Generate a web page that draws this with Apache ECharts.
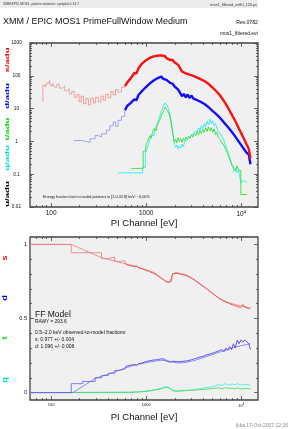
<!DOCTYPE html>
<html><head><meta charset="utf-8">
<script src="https://cdn.jsdelivr.net/npm/echarts@6/dist/echarts.min.js"></script>
<style>html,body{margin:0;padding:0;background:#fff}#c{width:289px;height:429px}</style>
</head><body><div id="c"></div>
<script>
// ---------- tick values ----------
const xMajor = [100, 1000, 10000];
const xMinor = [70, 80, 90, 200, 300, 400, 500, 600, 700, 800, 900, 2000, 3000, 4000, 5000, 6000, 7000, 8000, 9000];
const yTopMajor = [0.01, 0.1, 1, 10, 100, 1000];
const yTopMinor = [0.02,0.03,0.04,0.05,0.06,0.07,0.08,0.09, 0.2,0.3,0.4,0.5,0.6,0.7,0.8,0.9, 2,3,4,5,6,7,8,9, 20,30,40,50,60,70,80,90, 200,300,400,500,600,700,800,900];
const yBotMajor = [0, 0.5, 1];
const yBotMinor = [0.1, 0.2, 0.3, 0.4, 0.6, 0.7, 0.8, 0.9];

// ---------- shared high-energy grid (eV) ----------
const gridE = [600,630,660,690,720,750,790,830,870,910,950,1000,1040,1090,1140,1200,1250,1310,1370,1440,1500,1570,1650,1720,1800,1890,1980,2070,2170,2270,2380,2490,2610,2730,2860,3000,3140,3290,3440,3600,3770,3950,4140,4330,4540,4750,4980,5210,5460,5720,5990,6270,6570,6880,7200,7540,7900,8270,8660,9070,9500,9950,10400,10900,11400,12000,12500];

// ---------- top panel: s (singles) ----------
const sLowE = [82,82,87,91,96,99,104,109,115,122,130,139,147,155,165,175,186,197,207,219,232,247,261,278,294,314,334,354,374,398,425,450,476,506,549,600];
const sLow  = [16,52,45,60,71,50,58,45,55,42,48,35,40,28,33,22,27,16,24,14,20,13,21,15,22,16,24,18,27,21,33,26,38,32,45,48];
const sHigh = [48,62,58,85,80,122,118,170,160,240,220,300,280,350,320,390,350,410,360,420,370,400,340,360,300,310,260,265,215,200,135,140,118,128,108,118,100,108,88,95,78,84,68,72,56,60,44,46,34,35,25,24,17,16,11,10,6.8,6.5,4.2,3.8,2.4,2.4,1.4,1.5,0.8,0.6,0.3];

// ---------- top panel: d (doubles) ----------
const dLowE = [172,210,257,290,313,339,383,415,450,476,506,550,595,600];
const dLow  = [1.06,0.93,1.2,1.5,1.37,1.7,2.2,3.0,3.9,2.9,4.4,5.8,7.9,9];
const dHigh = [9,12,11,15,14,19,18,26,24,35,32,46,43,58,54,72,66,84,76,95,82,90,74,75,60,58,48,46,38,34,24,28,22,27,21,25,20,23,18,20,16,17,13.5,14,11,11.5,8.5,9,6.8,7,5.2,5.3,3.8,4.0,2.8,2.9,2.0,2.0,1.4,1.45,0.95,1.0,0.65,0.7,0.45,0.4,0.2];

// ---------- top panel: t (triples) ----------
const tE = [700,930,930,980,1000,1040,1090,1130,1170,1220,1270,1320,1380,1430,1480,1530,1580,1630,1680,1730,1780,1830,1880,1930,1980,2040,2100,2170,2240,2310,2380,2460,2540,2620,2710,2800,2900,3000,3100,3210,3320,3440,3560,3680,3810,3940,4080,4220,4370,4520,4680,4840,5010,5190,5370,5560,5760,5960,6170,6390,6610,6850,7090,7340,7600,7870,8150,8440,8740,9050,9400,9900,9900,11500];
const tVal = [0.15,0.15,0.5,0.5,0.85,1.05,1.5,1.25,2.0,2.5,2.1,3.4,4.3,5.6,7.2,8.6,11,12,8.6,9.2,5.6,3.6,2.2,1.4,0.95,1.15,0.9,1.3,1.0,1.2,0.95,1.25,1.05,1.35,1.15,1.45,1.25,1.6,1.35,1.75,1.5,1.9,1.6,2.1,1.75,2.3,1.9,2.6,2.0,2.8,2.1,2.6,1.9,2.4,1.6,1.9,1.3,1.45,1.0,0.95,0.72,0.58,0.46,0.36,0.28,0.2,0.2,0.15,0.13,0.18,0.13,0.13,0.024,0.024];

// ---------- top panel: q (quadruples) ----------
const qE = [506,920,920,980,980,1040,1090,1140,1200,1250,1310,1370,1430,1480,1530,1580,1630,1680,1730,1780,1830,1880,1930,1980,2040,2100,2170,2240,2310,2380,2460,2540,2620,2710,2800,2900,3000,3100,3210,3320,3440,3560,3680,3810,3940,4080,4220,4370,4520,4680,4840,5010,5190,5370,5560,5760,5960,6170,6390,6610,6850,7090,7340,7600,7870,8150,8440,8740,9050,9400,9900,10400,11500];
const qVal = [0.11,0.11,0.16,0.16,0.41,0.7,1.1,1.6,1.45,2.6,3.5,5.2,7.6,10,12.5,15,17,12,11,6.8,4.2,2.4,1.3,0.8,0.66,0.78,0.58,0.72,0.62,0.82,0.7,0.95,0.85,1.15,1.0,1.4,1.25,1.7,1.5,2.1,1.8,2.6,2.2,3.0,2.5,3.5,2.8,4.2,3.2,4.8,3.4,4.2,3.0,3.5,2.4,2.7,1.8,1.8,1.25,1.05,0.72,0.56,0.42,0.3,0.23,0.2,0.12,0.15,0.11,0.13,0.055,0.065,0.055];

// ---------- bottom panel: pattern fractions ----------
const rsLowE = [60,163,339,400,467,520,600];
const rsLow  = [1,0.944,0.905,0.915,0.885,0.89,0.872];
const rsHigh = [0.872,0.862,0.868,0.855,0.862,0.850,0.856,0.842,0.850,0.835,0.842,0.826,0.832,0.815,0.822,0.805,0.808,0.79,0.792,0.772,0.768,0.755,0.745,0.742,0.748,0.800,0.812,0.805,0.815,0.800,0.812,0.795,0.802,0.785,0.788,0.772,0.775,0.755,0.752,0.738,0.735,0.718,0.715,0.70,0.695,0.68,0.677,0.66,0.665,0.64,0.645,0.625,0.63,0.612,0.618,0.600,0.610,0.590,0.600,0.580,0.592,0.575,0.595,0.578,0.585,0.565,0.575];
const rsModelE = [60,163,339,467,595,756,961,1220,1430,1600,1750,1840,1900,2050,2310,2500,2760,3170,3720,4370,5140,6030,7080,8320,9770,11480,12500];
const rsModel  = [1,1,0.91,0.888,0.87,0.855,0.832,0.81,0.776,0.754,0.743,0.75,0.80,0.81,0.803,0.80,0.787,0.765,0.73,0.70,0.664,0.63,0.61,0.597,0.586,0.575,0.57];

const rdLowE = [60,163,215,290,340,400,467,530,600];
const rdLow  = [0,0.06,0.075,0.1,0.115,0.13,0.15,0.16,0.17];
const rdHigh = [0.17,0.18,0.172,0.185,0.178,0.19,0.182,0.195,0.19,0.2,0.195,0.21,0.2,0.215,0.205,0.22,0.208,0.222,0.212,0.228,0.215,0.225,0.212,0.22,0.205,0.212,0.2,0.21,0.198,0.208,0.2,0.212,0.202,0.215,0.208,0.222,0.215,0.23,0.22,0.238,0.228,0.245,0.235,0.255,0.245,0.262,0.25,0.27,0.258,0.28,0.27,0.29,0.275,0.3,0.285,0.31,0.29,0.33,0.3,0.355,0.33,0.356,0.34,0.356,0.35,0.33,0.29];
const rdModelE = [60,170,290,467,595,756,961,1220,1430,1670,1900,2200,2500,3170,3720,4370,5140,6030,7080,8320,9770,11480,12500];
const rdModel  = [0,0,0.095,0.14,0.165,0.185,0.2,0.212,0.218,0.215,0.205,0.2,0.202,0.215,0.23,0.245,0.26,0.275,0.29,0.305,0.315,0.325,0.33];

const rtE = [60,700,900,1100,1300,1450,1550,1650,1750,1850,1950,2100,2300,2600,3000,3400,3800,4200,4600,5000,5400,5800,6300,6800,7400,8000,8600,9200,10000,11000,12500];
const rt  = [0,0.002,0.006,0.012,0.02,0.027,0.033,0.035,0.03,0.02,0.012,0.01,0.011,0.013,0.015,0.018,0.02,0.022,0.025,0.028,0.03,0.032,0.026,0.034,0.028,0.03,0.026,0.032,0.024,0.028,0.025];
const rq  = [0,0.002,0.006,0.013,0.022,0.03,0.036,0.04,0.034,0.022,0.012,0.01,0.012,0.015,0.018,0.022,0.027,0.032,0.036,0.04,0.046,0.055,0.048,0.06,0.05,0.058,0.052,0.06,0.05,0.055,0.05];

// ---------- helpers ----------
const FONT = 'Liberation Sans, Arial, sans-serif';
const AX = '#444';
const zip = (xs, ys) => xs.map((x, i) => [x, ys[i]]);

function xAxisDef(gi, pos, ticks, len, labels, lblSize, margin) {
  return {
    type: 'log', logBase: 10, gridIndex: gi, position: pos, min: 60, max: 15000,
    axisLine: { show: false, onZero: false }, splitLine: { show: false },
    axisTick: { show: true, inside: true, length: len, customValues: ticks, lineStyle: { color: AX, width: 0.8 } },
    axisLabel: labels ? {
      show: true, customValues: labels, fontFamily: FONT, fontSize: lblSize, color: '#111', margin: margin,
      formatter: v => (Math.abs(v - 10000) < 1 ? '{a|10}{s|4}' : String(Math.round(v))),
      rich: { a: { fontSize: lblSize, fontFamily: FONT, color: '#111' }, s: { fontSize: lblSize * 0.7, fontFamily: FONT, color: '#111', padding: [0, 0, lblSize * 0.55, 0] } }
    } : { show: false }
  };
}
function yAxisDef(gi, pos, type, min, max, ticks, len, labels, lblSize, margin, align, fmt) {
  const a = {
    type: type, gridIndex: gi, position: pos, min: min, max: max,
    axisLine: { show: false, onZero: false }, splitLine: { show: false },
    axisTick: { show: true, inside: true, length: len, customValues: ticks, lineStyle: { color: AX, width: 0.8 } },
    axisLabel: labels ? { show: true, customValues: labels, fontFamily: FONT, fontSize: lblSize, color: '#111', margin: margin, align: align, formatter: fmt } : { show: false }
  };
  if (type === 'log') a.logBase = 10;
  return a;
}

const fmtTopY = v => {
  const m = { '-2': '0.01', '-1': '0.1', '0': '1', '1': '10', '2': '100', '3': '1000' };
  return m[String(Math.round(Math.log10(v)))];
};
const fmtBotY = v => (Math.abs(v - 0.5) < 1e-6 ? '0.5' : String(Math.round(v)));

const xAxes = [
  xAxisDef(0, 'bottom', xMajor, 4, xMajor, 6.5, 3),
  xAxisDef(0, 'bottom', xMinor, 2, null),
  xAxisDef(0, 'top', xMajor, 4, null),
  xAxisDef(0, 'top', xMinor, 2, null),
  xAxisDef(1, 'bottom', xMajor, 4, xMajor, 4, 3),
  xAxisDef(1, 'bottom', xMinor, 2, null),
  xAxisDef(1, 'top', xMajor, 4, null),
  xAxisDef(1, 'top', xMinor, 2, null)
];
xAxes[0].name = 'PI Channel [eV]';
xAxes[0].nameLocation = 'middle';
xAxes[0].nameGap = 11;
xAxes[0].nameTextStyle = { fontFamily: FONT, fontSize: 9.5, color: '#111' };
xAxes[4].name = 'PI Channel [eV]';
xAxes[4].nameLocation = 'middle';
xAxes[4].nameGap = 12;
xAxes[4].nameTextStyle = { fontFamily: FONT, fontSize: 9.5, color: '#111' };

const yAxes = [
  yAxisDef(0, 'left', 'log', 0.01, 1000, yTopMajor, 4, yTopMajor, 4.8, 13.5, 'center', fmtTopY),
  yAxisDef(0, 'left', 'log', 0.01, 1000, yTopMinor, 2, null),
  yAxisDef(0, 'right', 'log', 0.01, 1000, yTopMajor, 4, null),
  yAxisDef(0, 'right', 'log', 0.01, 1000, yTopMinor, 2, null),
  yAxisDef(1, 'left', 'value', -0.05, 1.05, yBotMajor, 4, yBotMajor, 5.5, 3, 'right', fmtBotY),
  yAxisDef(1, 'left', 'value', -0.05, 1.05, yBotMinor, 2, null),
  yAxisDef(1, 'right', 'value', -0.05, 1.05, yBotMajor, 4, null),
  yAxisDef(1, 'right', 'value', -0.05, 1.05, yBotMinor, 2, null)
];

function line(name, data, color, width, xi, yi, step) {
  return {
    type: 'line', name: name, data: data, xAxisIndex: xi, yAxisIndex: yi,
    showSymbol: false, symbol: 'none', step: step || false, silent: true,
    lineStyle: { color: color, width: width }, z: 3
  };
}

const series = [
  // top panel
  line('q', zip(qE, qVal), '#22f0f0', 0.9, 0, 0),
  line('t', zip(tE, tVal), '#33e033', 0.9, 0, 0),
  line('d low', zip(dLowE, dLow), '#8c8cf0', 0.8, 0, 0, 'end'),
  line('d', zip(gridE, dHigh), '#1010ff', 2.4, 0, 0),
  line('s low', zip(sLowE, sLow), '#f08c8c', 0.8, 0, 0, 'end'),
  line('s', zip(gridE, sHigh), '#ff1010', 2.4, 0, 0),
  // bottom panel
  line('rq', zip(rtE, rq), '#30e8e8', 0.8, 4, 4),
  line('rt', zip(rtE, rt), '#40dd40', 0.8, 4, 4),
  line('rd model', zip(rdModelE, rdModel), '#7070ee', 0.8, 4, 4),
  line('rd low', zip(rdLowE, rdLow), '#6060ee', 0.8, 4, 4, 'end'),
  line('rd', zip(gridE, rdHigh), '#4848ee', 0.9, 4, 4),
  line('rs model', zip(rsModelE, rsModel), '#f07878', 0.8, 4, 4),
  line('rs low', zip(rsLowE, rsLow), '#f07878', 0.8, 4, 4, 'end'),
  line('rs', zip(gridE, rsHigh), '#f04848', 0.9, 4, 4)
];

function txt(x, y, text, size, opts) {
  opts = opts || {};
  return {
    type: 'text', x: x, y: y, rotation: opts.rot || 0, scaleX: opts.sx || 1, z: 10, silent: true,
    style: {
      text: text, fill: opts.color || '#111', textAlign: opts.align || 'left', textVerticalAlign: 'middle',
      font: (opts.weight || 'normal') + ' ' + size + 'px ' + FONT
    }
  };
}
const R90 = Math.PI / 2;
const graphic = [
  { type: 'rect', shape: { x: 0, y: 0, width: 258, height: 8 }, style: { fill: '#ececec' }, z: 1, silent: true },
  txt(3, 4.5, 'XMM EPIC MOS1, pattern statistics: epatplot-1.13.7', 3.3, { color: '#333' }),
  txt(257, 4.5, 'mos1_filtered_ev80_120.ps', 3.8, { color: '#333', align: 'right' }),
  txt(3, 21.5, 'XMM / EPIC MOS1 PrimeFullWindow Medium', 9),
  txt(258, 22.5, 'Rev.0782', 5.2, { align: 'right' }),
  txt(258, 34, 'mos1_filtered.evt', 5, { align: 'right' }),
  txt(7, 60, 's/adu', 6, { rot: R90, align: 'center', color: '#ff0000', sx: 1.6, weight: 'bold' }),
  txt(7, 96, 'd/adu', 6, { rot: R90, align: 'center', color: '#0000ff', sx: 1.6, weight: 'bold' }),
  txt(7, 129, 't/adu', 6, { rot: R90, align: 'center', color: '#00dd00', sx: 1.6, weight: 'bold' }),
  txt(7, 158, 'q/adu', 6, { rot: R90, align: 'center', color: '#00e0e0', sx: 1.6, weight: 'bold' }),
  txt(7, 194, 'u/adu', 6, { rot: R90, align: 'center', color: '#000', sx: 1.6, weight: 'bold' }),
  txt(43, 197, 'Energy fraction lost in invalid patterns in [1.0-32.8] keV: ~0.00%', 3.8),
  txt(5.5, 258, 's', 6.5, { rot: R90, align: 'center', color: '#ff0000', sx: 1.4, weight: 'bold' }),
  txt(5.5, 298, 'd', 6.5, { rot: R90, align: 'center', color: '#0000ff', sx: 1.4, weight: 'bold' }),
  txt(5.5, 338, 't', 6.5, { rot: R90, align: 'center', color: '#00dd00', sx: 1.4, weight: 'bold' }),
  txt(5.5, 380, 'q', 6.5, { rot: R90, align: 'center', color: '#00e0e0', sx: 1.4, weight: 'bold' }),
  txt(35, 315, 'FF Model', 8.5),
  txt(35, 322, 'RAWY = 293.6', 4.8),
  txt(35, 333, '0.5\u20132.0 keV observed-to-model fractions:', 5),
  txt(35, 340, 's: 0.977 +/- 0.004', 5),
  txt(35, 347, 'd: 1.096 +/- 0.008', 5),
  txt(288, 425.5, 'jkka 17-Oct-2007 12:26', 5, { align: 'right', color: '#888' })
];

const chart = echarts.init(document.getElementById('c'), null, { renderer: 'canvas', devicePixelRatio: 1 });
chart.setOption({
  animation: false,
  backgroundColor: '#ffffff',
  grid: [
    { left: 30, top: 43, width: 228, height: 164, show: true, backgroundColor: '#f0f0f0', borderColor: AX, borderWidth: 1.3 },
    { left: 30, top: 237, width: 228, height: 163, show: true, backgroundColor: '#f0f0f0', borderColor: AX, borderWidth: 1.3 }
  ],
  xAxis: xAxes,
  yAxis: yAxes,
  series: series,
  graphic: graphic
});
</script>
</body></html>
